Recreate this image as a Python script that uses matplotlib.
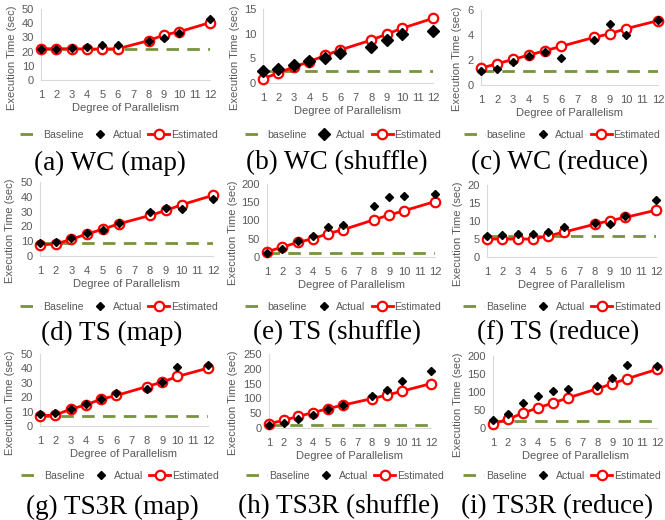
import matplotlib
matplotlib.use("Agg")
import matplotlib.pyplot as plt

plt.rcParams['font.family'] = 'Liberation Sans'

# categories on the x axis (7 and 11 have no runs)
x_labels = [str(i) for i in range(1, 13)]
degrees = [1, 2, 3, 4, 5, 6, 8, 9, 10, 12]

# WC
wc_map_actual = [22, 22, 22.5, 23.5, 24.6, 25, 27.7, 29.3, 32.9, 42.7]
wc_map_est = [22, 22, 22, 21.8, 21.8, 22, 27.7, 31.7, 34, 40.4]
wc_map_base = 21.8

wc_shuffle_actual = [2.4, 2.9, 3.6, 4.4, 5.0, 6.1, 7.2, 8.8, 9.9, 10.5]
wc_shuffle_est = [0.9, 2.0, 3.3, 4.3, 5.6, 6.7, 8.7, 9.9, 11.1, 13.1]
wc_shuffle_base = 2.4

wc_reduce_actual = [1.1, 1.3, 1.8, 2.3, 2.6, 2.15, 3.6, 4.9, 4.0, 5.2]
wc_reduce_est = [1.35, 1.7, 2.05, 2.4, 2.75, 3.1, 3.8, 4.1, 4.5, 5.15]
wc_reduce_base = 1.1

# TS
ts_map_actual = [9, 9.7, 12, 15.4, 17.6, 22.2, 29.4, 32.4, 31.7, 38.7]
ts_map_est = [7.5, 8.1, 11.3, 14.9, 18.1, 21.7, 27.4, 30.8, 34.6, 41]
ts_map_base = 9

ts_shuffle_actual = [11, 23, 43, 58, 81, 88, 141, 164, 168, 172]
ts_shuffle_est = [14.5, 27, 40, 50, 64, 75, 102, 115, 127, 152]
ts_shuffle_base = 12

ts_reduce_actual = [5.7, 6.1, 6.3, 6.5, 6.9, 8.2, 9.4, 9.2, 11.5, 15.7]
ts_reduce_est = [5.0, 5.0, 5.0, 5.0, 5.9, 6.9, 9.1, 10.1, 11.0, 13.0]
ts_reduce_base = 5.7

# TS3R
ts3r_map_actual = [8.1, 8.8, 11.6, 15.1, 18.8, 22.8, 26, 30.9, 40.9, 42.1]
ts3r_map_est = [7.0, 7.7, 11.6, 14.7, 18.6, 21.2, 27.4, 30.5, 34.4, 40.2]
ts3r_map_base = 7.0

ts3r_shuffle_actual = [9, 18, 29.4, 45, 63, 77, 107, 130, 159.5, 193]
ts3r_shuffle_est = [14.7, 26, 39.6, 52, 65.6, 77, 99.5, 111, 124, 150]
ts3r_shuffle_base = 9

ts3r_reduce_actual = [21, 38, 70, 89, 102, 109, 116.7, 140, 174, 172]
ts3r_reduce_est = [12, 24, 41.7, 55.6, 69.4, 83.3, 109, 123, 137, 163]
ts3r_reduce_base = 20.4

captions = ['(a) WC (map)', '(b) WC (shuffle)', '(c) WC (reduce)',
            '(d) TS (map)', '(e) TS (shuffle)', '(f) TS (reduce)',
            '(g) TS3R (map)', '(h) TS3R (shuffle)', '(i) TS3R (reduce)']
base_names = ['Baseline', 'baseline', 'baseline',
              'Baseline', 'baseline', 'Baseline',
              'Baseline', 'Baseline', 'Baseline']
actuals = [wc_map_actual, wc_shuffle_actual, wc_reduce_actual,
           ts_map_actual, ts_shuffle_actual, ts_reduce_actual,
           ts3r_map_actual, ts3r_shuffle_actual, ts3r_reduce_actual]
estimates = [wc_map_est, wc_shuffle_est, wc_reduce_est,
             ts_map_est, ts_shuffle_est, ts_reduce_est,
             ts3r_map_est, ts3r_shuffle_est, ts3r_reduce_est]
baselines = [wc_map_base, wc_shuffle_base, wc_reduce_base,
             ts_map_base, ts_shuffle_base, ts_reduce_base,
             ts3r_map_base, ts3r_shuffle_base, ts3r_reduce_base]
y_max = [50, 15, 6, 50, 200, 20, 50, 250, 200]
y_step = [10, 5, 2, 10, 50, 5, 10, 50, 50]

# layout in pixels: plot box (left, top, right, bottom), ylabel x, legend centre, caption centre
W, H = 665, 520
boxes = [(41, 9, 210, 80), (263, 9, 433, 83), (481, 10, 658, 85),
         (40, 182, 213, 256), (267, 184, 435, 257), (487, 185, 656, 257),
         (40, 354, 208, 426), (269, 354, 431, 428), (493, 356, 657, 428)]
ylab_x = [12, 235, 457, 10, 233, 458, 10, 233, 458]
legend_c = [(119, 135), (343, 135), (562, 135),
            (119, 307), (343, 307), (562, 307),
            (120, 476), (345, 476), (562, 476)]
caption_c = [(110, 163), (337, 163), (560, 163),
             (112, 333), (337, 333), (558, 333),
             (112, 507), (339, 507), (557, 507)]
diamond_ms = [4.2, 5.8, 3.8, 4.2, 3.8, 4.2, 3.8, 4, 3.8]

grey = '#595959'
green = '#77933C'

fig = plt.figure(figsize=(6.65, 5.2), dpi=100)

for i in range(9):
    l, t, r, b = boxes[i]
    w, h = r - l, b - t
    ax = fig.add_axes([l / W, 1 - b / H, w / W, h / H])

    ax.plot(range(1, 13), [baselines[i]] * 12, color=green, lw=2,
            ls=(0, (4.5, 3)), label=base_names[i], zorder=2)
    ax.plot(degrees, actuals[i], ls='none', marker='D', color='black',
            ms=diamond_ms[i], label='Actual', zorder=4, clip_on=False)
    ax.plot(degrees, estimates[i], color='red', lw=2, marker='o', ms=6.8,
            mfc='white', mec='red', mew=1.6, label='Estimated', zorder=3,
            clip_on=False)

    ax.set_xlim(1, 12)
    ax.set_ylim(0, y_max[i])
    ax.set_xticks(range(1, 13))
    ax.set_xticklabels(x_labels)
    ax.set_yticks(range(0, y_max[i] + 1, y_step[i]))
    for s in ['top', 'right']:
        ax.spines[s].set_visible(False)
    for s in ['left', 'bottom']:
        ax.spines[s].set_color('#D9D9D9')
    ax.tick_params(length=0, colors=grey, labelsize=8)
    ax.tick_params(axis='x', pad=7)
    ax.tick_params(axis='y', pad=5)

    ax.set_xlabel('Degree of Parallelism', color=grey, fontsize=8, va='center')
    ax.xaxis.set_label_coords(0.5, -28 / h)
    ax.set_ylabel('Execution Time (sec)', color=grey, fontsize=8, va='center')
    ax.yaxis.set_label_coords((ylab_x[i] - l) / w, 1 - 49 / h)

    lx, ly = legend_c[i]
    ax.legend(loc='center', bbox_to_anchor=(lx / W, 1 - ly / H),
              bbox_transform=fig.transFigure, ncol=3, frameon=False,
              fontsize=7.6, handlelength=2.0, handletextpad=0.15,
              columnspacing=0.6, labelcolor=grey, borderaxespad=0,
              borderpad=0)

    cx, cy = caption_c[i]
    fig.text(cx / W, 1 - cy / H, captions[i], ha='center', va='center',
             family='Liberation Serif', fontsize=19.5)

fig.savefig('out.png', dpi=100)
